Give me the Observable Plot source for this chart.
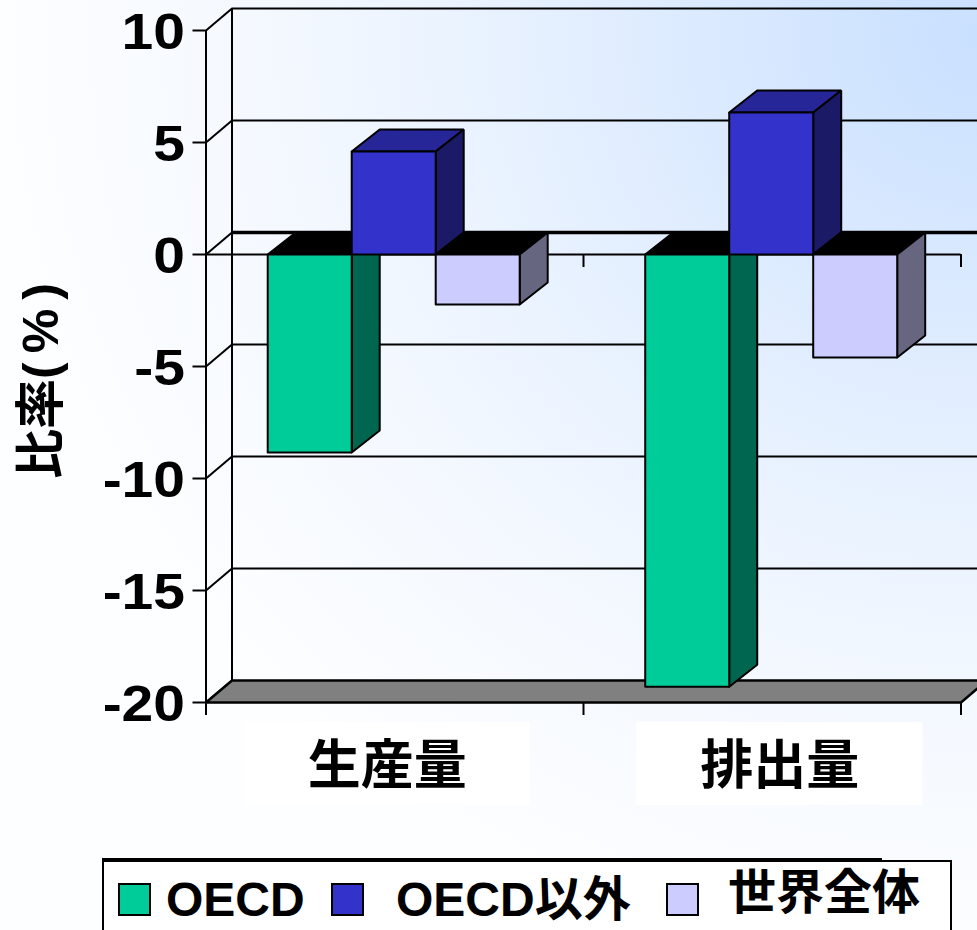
<!DOCTYPE html>
<html><head><meta charset="utf-8">
<script src="https://cdn.jsdelivr.net/npm/d3@7"></script>
<script src="https://cdn.jsdelivr.net/npm/@observablehq/plot@0.6"></script>
<style>
html,body{margin:0;padding:0;background:#fff}
#page{position:relative;width:977px;height:930px;overflow:hidden;
 background:radial-gradient(ellipse 1000px 950px at 100% 4%, #c9e0ff 0%, #e2eeff 38%, #f3f8ff 68%, #fdfeff 100%)}
#page svg{display:block}
#legend{position:relative;width:977px;height:72px}
#box{position:absolute;left:102px;top:2px;width:846px;height:90px;background:#fff;border:2px solid #000}
#thick{position:absolute;left:102px;top:0;width:780px;height:3px;background:#000}
.sw{position:absolute;top:25px;width:29px;height:29px;border:2px solid #000}
.lb{position:absolute;font:bold 48px "Liberation Sans","Noto Sans CJK JP",sans-serif;white-space:nowrap;line-height:56px}
</style></head><body><div id="page"></div>
<script>
const categories = ["生産量", "排出量"];
const seriesNames = ["OECD", "OECD以外", "世界全体"];
const oecd = [-8.84, -19.3];
const nonOecd = [4.6, 6.34];
const world = [-2.23, -4.6];
const yTicks = [10, 5, 0, -5, -10, -15, -20];
const front = ["#00cc99", "#3333cc", "#ccccff"];
const side = ["#006650", "#1a1a66", "#666680"];
const topFace = ["#262699"];

const font = '"Liberation Sans","Noto Sans CJK JP",sans-serif';
const dx = 26 / 377.5, dy = 22 / 22.4;      // depth of the walls in data units
const barDx = 28 / 377.5;                   // depth of the bars
const barW = 0.2225, gap = 0.1635;
const series = [oecd, nonOecd, world];

function face(points, fill, sw = 2) {
  const closed = [...points, points[0]].map(([x, y]) => ({x, y}));
  return Plot.line(closed, {x: "x", y: "y", fill, stroke: "#000", strokeWidth: sw, curve: "linear", strokeLinejoin: "miter"});
}
const bars = [];
categories.forEach((c, ci) => {
  series.forEach((vals, si) => {
    const v = vals[ci], x0 = ci + gap + si * barW, x1 = x0 + barW;
    const lo = Math.min(v, 0), hi = Math.max(v, 0);
    bars.push(face([[x0, hi], [x0 + barDx, hi + dy], [x1 + barDx, hi + dy], [x1, hi]], v < 0 ? "#000" : topFace[0]));
    bars.push(face([[x1, lo], [x1 + barDx, lo + dy], [x1 + barDx, hi + dy], [x1, hi]], side[si]));
    bars.push(face([[x0, lo], [x1, lo], [x1, hi], [x0, hi]], front[si]));
  });
});

const labelX = [0.48, 1.52], labelHalf = 0.379;

const plot = Plot.plot({
  width: 977, height: 858,
  marginLeft: 205.5, marginRight: 16.5, marginTop: 30, marginBottom: 156,
  style: {background: "transparent", overflow: "hidden"},
  x: {domain: [0, 2], axis: null},
  y: {domain: [-20, 10], axis: null},
  marks: [
    Plot.ruleY(yTicks.filter(d => d !== 0 && d !== -20), {y: d => d + dy, x1: dx, x2: 2 + dx, stroke: "#000", strokeWidth: 2}),
    Plot.ruleY([0], {y: d => d + dy, x1: dx, x2: 2 + dx, stroke: "#000", strokeWidth: 3.5}),
    Plot.ruleX([dx], {y1: -20 + dy, y2: 10 + dy, stroke: "#000", strokeWidth: 2}),
    Plot.ruleX([0], {y1: -20, y2: 10, stroke: "#000", strokeWidth: 2}),
    Plot.link(yTicks, {x1: 0, y1: d => d, x2: dx, y2: d => d + dy, stroke: "#000", strokeWidth: 2}),
    face([[0, -20], [dx, -20 + dy], [2 + dx, -20 + dy], [2, -20]], "#808080", 2.5),
    Plot.ruleY([0], {x1: 0, x2: 2, stroke: "#000", strokeWidth: 2}),
    Plot.ruleX([0, 1, 2], {y1: 0, y2: -0.58, stroke: "#000", strokeWidth: 2}),
    Plot.axisY({anchor: "left", ticks: yTicks, tickSize: 13, tickPadding: 8, tickFormat: d => String(d),
      fontSize: 50, fontWeight: "bold", fontFamily: font, strokeWidth: 2, label: null, color: "#000"}),
    Plot.axisX({anchor: "bottom", ticks: [0, 1, 2], tickSize: 13, tickFormat: () => "", strokeWidth: 2, label: null, color: "#000"}),
    ...bars,
    Plot.rect(categories, {x1: (d, i) => labelX[i] - labelHalf, x2: (d, i) => labelX[i] + labelHalf, y1: -20.9, y2: -24.6, fill: "#fff"}),
    Plot.text(categories, {x: (d, i) => labelX[i], y: -22.9, text: d => d, fontSize: 53, fontWeight: "bold", fontFamily: font, fill: "#000"}),
    Plot.text(["比率(%)"], {frameAnchor: "left", textAnchor: "middle", dx: -164, dy: 10, rotate: -90, fontSize: 50, fontWeight: "bold", fontFamily: font, fill: "#000", className: "ytitle"})
  ]
});
const page = document.getElementById("page");
page.appendChild(plot);

// tick labels in the reference are stretched horizontally
plot.querySelectorAll('g[aria-label="y-axis tick label"] text').forEach(t => {
  const w = t.getComputedTextLength();
  t.setAttribute("textLength", w * 1.14);
  t.setAttribute("lengthAdjust", "spacingAndGlyphs");
  t.setAttribute("y", 18);
});
// the brackets of the axis title are widely spaced
plot.querySelectorAll('g.ytitle text, .ytitle text').forEach(t => {
  const s = t.textContent;
  if (!s.includes("(")) return;
  t.textContent = "";
  const a = document.createElementNS("http://www.w3.org/2000/svg", "tspan");
  a.textContent = s.slice(0, 2);
  const b = document.createElementNS("http://www.w3.org/2000/svg", "tspan");
  b.textContent = s.slice(2);
  b.setAttribute("style", "letter-spacing:9px");
  t.append(a, b);
});

const lg = document.createElement("div");
lg.id = "legend";
const pos = [{sw: 118, lb: 166, top: 14}, {sw: 331, lb: 396, top: 14}, {sw: 666, lb: 728, top: 7}];
let html = '<div id="box"></div><div id="thick"></div>';
seriesNames.forEach((n, i) => {
  html += `<div class="sw" style="left:${pos[i].sw}px;background:${front[i]}"></div>`;
  html += `<div class="lb" style="left:${pos[i].lb}px;top:${pos[i].top}px">${n}</div>`;
});
lg.innerHTML = html;
page.appendChild(lg);
</script></body></html>
